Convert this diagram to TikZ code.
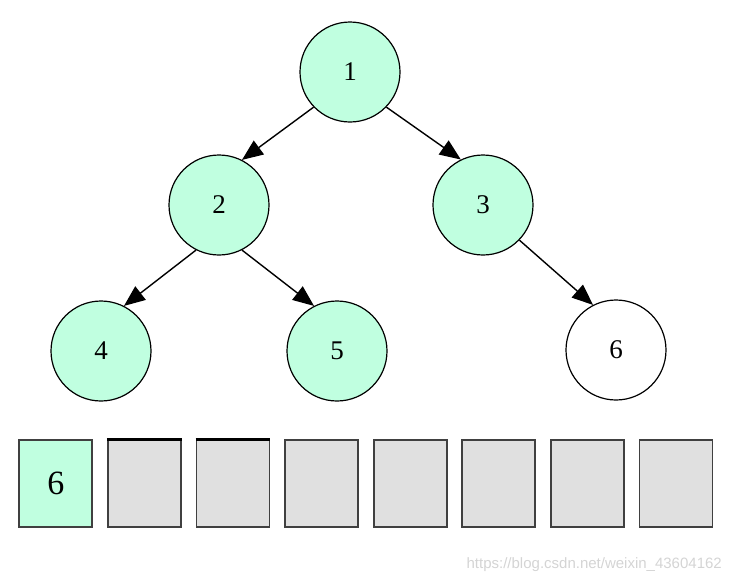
\documentclass[tikz,border=0pt]{standalone}
\usepackage{fontspec}
\setmainfont{Liberation Serif}
\newfontfamily\urlfont{Liberation Sans}
\usepackage{tikz}
\usetikzlibrary{arrows.meta,backgrounds}
\definecolor{mint}{HTML}{C0FFE0}
\definecolor{cell}{HTML}{E0E0E0}
\definecolor{mark}{HTML}{D4D4D4}

\begin{document}
\begin{tikzpicture}[x=1pt, y=-1pt, inner sep=0pt]
    \tikzstyle{heap}=[circle, draw=black, fill=mint, line width=1.2pt, minimum size=100pt, font=\fontsize{27}{29}\selectfont]
    \tikzstyle{fresh}=[heap, fill=white]
    \tikzstyle{slot}=[rectangle, draw=black!75, fill=cell, line width=1.8pt, minimum width=73pt, minimum height=87pt]
    \tikzstyle{link}=[-{Triangle[length=21pt, width=17pt]}, line width=1.4pt]

    \useasboundingbox (0,0) rectangle (731,584);

    \node[heap] (N1) at (350,72) {1};
    \node[heap] (N2) at (219,205) {2};
    \node[heap] (N3) at (483,205) {3};
    \node[heap] (N4) at (101,351) {4};
    \node[heap] (N5) at (337,351) {5};
    \node[fresh] (N6) at (616,350) {6};

    \draw[link] (N1.224) to (N2.63);
    \draw[link] (N1.316) to (N3.116);
    \draw[link] (N2.243) to (N4.63);
    \draw[link] (N2.297) to (N5.117);
    \draw[link] (N3.316) to (N6.117);

    % array cells
    \foreach \i in {0,...,7}
        \node[slot] (S\i) at (55.75+88.6*\i,483.5) {};
    \node[slot, fill=mint, font=\fontsize{34}{36}\selectfont] at (S0) {6};
    \draw[line width=3pt] (S1.north west) to (S1.north east);
    \draw[line width=3pt] (S2.north west) to (S2.north east);

    \node[anchor=east, text=mark, font=\urlfont\fontsize{15}{17}\selectfont] (url) at (722,565) {https://blog.csdn.net/weixin\_43604162};
\end{tikzpicture}
\end{document}
